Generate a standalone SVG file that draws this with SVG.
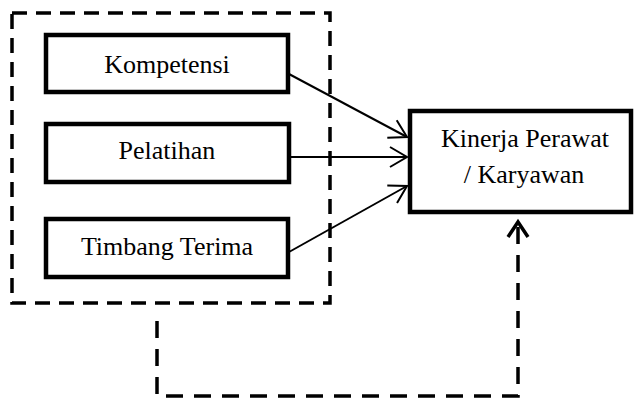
<svg xmlns="http://www.w3.org/2000/svg" width="634" height="400" viewBox="0 0 634 400">
<style>
.box{fill:#fff;stroke:#000;stroke-width:4.5}
.lbl{font-family:"Liberation Serif","Times New Roman",serif;font-size:26px;fill:#000;text-anchor:middle}
.con{fill:none;stroke:#000;stroke-width:2}
.dash{fill:none;stroke:#000;stroke-width:3.5;stroke-dasharray:15 9}
.fb{fill:none;stroke:#000;stroke-width:3.5;stroke-dasharray:17 11}
</style>
<defs>
<marker id="arr" markerUnits="userSpaceOnUse" markerWidth="24" markerHeight="24" viewBox="-20 -12 24 24" refX="0" refY="0" orient="auto">
<path d="M-17,-10 L0,0 L-17,10" fill="none" stroke="#000" stroke-width="2"/>
</marker>
</defs>
<g id="group-border">
<rect class="dash" x="12" y="13" width="318" height="290"/>
</g>
<g id="kompetensi">
<rect class="box" x="46" y="35" width="242" height="57"/>
<text class="lbl" x="167" y="73">Kompetensi</text>
</g>
<g id="pelatihan">
<rect class="box" x="46" y="124" width="243" height="58"/>
<text class="lbl" x="167" y="159">Pelatihan</text>
</g>
<g id="timbang-terima">
<rect class="box" x="46" y="219" width="242" height="58"/>
<text class="lbl" x="167" y="255">Timbang Terima</text>
</g>
<g id="kinerja">
<rect class="box" x="410" y="111" width="221" height="101"/>
<text class="lbl" x="525" y="147">Kinerja Perawat</text>
<text class="lbl" x="524" y="183">/ Karyawan</text>
</g>
<g id="connectors">
<path class="con" d="M289,74 L407,137" marker-end="url(#arr)"/>
<path class="con" d="M289,157 L407,157" marker-end="url(#arr)"/>
<path class="con" d="M289,252 L407,186" marker-end="url(#arr)"/>
<path class="fb" d="M157,321 V396 H518 V226"/>
<path d="M508,237 L518,222 L528,237" fill="none" stroke="#000" stroke-width="3.5"/>
</g>
</svg>
